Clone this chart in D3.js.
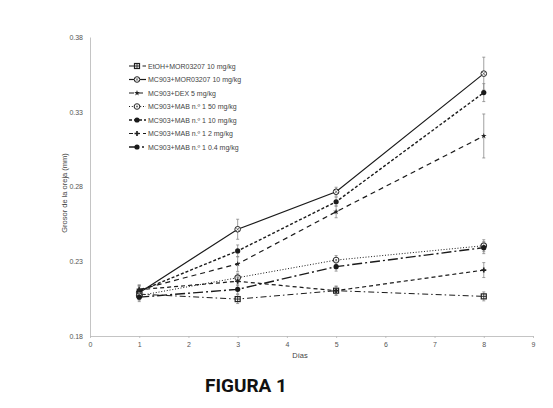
<!DOCTYPE html>
<html>
<head>
<meta charset="utf-8">
<style>
  body { margin: 0; background: #fff; }
  .axis text { font-family: "Liberation Sans", Arial, sans-serif; font-size: 7px; fill: #555; }
  .axis path, .axis line { stroke: #b5b5b5; stroke-width: 0.8px; }
  .legend text { font-family: "Liberation Sans", Arial, sans-serif; font-size: 7px; fill: #444; }
  .err { stroke: #888; stroke-width: 0.8px; }
  .title { font-family: Roboto, "Liberation Sans", sans-serif; font-weight: bold; font-size: 19px; fill: #111; }
</style>
</head>
<body>
<svg id="chart"></svg>
<script src="https://cdnjs.cloudflare.com/ajax/libs/d3/7.8.5/d3.min.js"></script>
<script>
  var days = [1, 3, 5, 8];
  var xTicks = [0, 1, 2, 3, 4, 5, 6, 7, 8, 9];
  var yTicks = [0.18, 0.23, 0.28, 0.33, 0.38];

  var names = [
    'EtOH+MOR03207 10 mg/kg',
    'MC903+MOR03207 10 mg/kg',
    'MC903+DEX 5 mg/kg',
    'MC903+MAB n.º 1 50 mg/kg',
    'MC903+MAB n.º 1 10 mg/kg',
    'MC903+MAB n.º 1 2 mg/kg',
    'MC903+MAB n.º 1 0.4 mg/kg'
  ];
  var etoh  = [0.208, 0.2047, 0.2103, 0.2065];
  var mor   = [0.209, 0.2514, 0.2765, 0.3555];
  var dex   = [0.211, 0.2282, 0.2631, 0.3138];
  var mab50 = [0.207, 0.2190, 0.2308, 0.2404];
  var mab10 = [0.210, 0.2369, 0.2698, 0.3428];
  var mab2  = [0.211, 0.2166, 0.2103, 0.2241];
  var mab04 = [0.206, 0.2112, 0.2264, 0.2391];

  var etohErr  = [0.003, 0.003, 0.003, 0.003];
  var morErr   = [0.004, 0.0067, 0.003, 0.011];
  var dexErr   = [0.003, 0.005, 0.004, 0.0147];
  var mab50Err = [0.003, 0.003, 0.003, 0.004];
  var mab10Err = [0.004, 0.004, 0.003, 0.006];
  var mab2Err  = [0.003, 0.003, 0.003, 0.005];
  var mab04Err = [0.003, 0.003, 0.003, 0.004];

  var values = [etoh, mor, dex, mab50, mab10, mab2, mab04];
  var errors = [etohErr, morErr, dexErr, mab50Err, mab10Err, mab2Err, mab04Err];

  // line styles per series
  var dashes = ['6,3,1.5,3', null, '5,4', '1,1.8', '3,2', '4,3', '10,3,2,3'];
  var widths = [1, 1.2, 1.2, 1, 1.4, 1.2, 1.4];
  var shapes = ['sqx', 'ox', 'star', 'o', 'dot', 'plus', 'dot'];

  var width = 553, height = 408;
  var chart = d3.select('#chart').attr('width', width).attr('height', height);

  var x = d3.scaleLinear().domain([0, 9]).range([90, 533]);
  var y = d3.scaleLinear().domain([0.18, 0.38]).range([336, 37]);

  // axes
  chart.append('g').attr('class', 'x axis')
    .attr('transform', 'translate(0,' + y(0.18) + ')')
    .call(d3.axisBottom(x).tickValues(xTicks).tickSize(2).tickSizeOuter(0).tickPadding(4).tickFormat(d3.format('d')));
  chart.append('g').attr('class', 'y axis')
    .attr('transform', 'translate(' + x(0) + ',0)')
    .call(d3.axisLeft(y).tickValues(yTicks).tickSize(0).tickPadding(7).tickFormat(d3.format('.2f')));

  chart.append('text')
    .attr('transform', 'translate(67,193) rotate(-90)')
    .attr('text-anchor', 'middle')
    .style('font-family', '"Liberation Sans", Arial, sans-serif')
    .style('font-size', '7.5px').style('fill', '#444')
    .text('Grosor de la oreja (mm)');
  chart.append('text')
    .attr('x', 300).attr('y', 358)
    .attr('text-anchor', 'middle')
    .style('font-family', '"Liberation Sans", Arial, sans-serif')
    .style('font-size', '7.5px').style('fill', '#444')
    .text('Días');

  function drawMarker(g, shape, cx, cy) {
    var m = g.append('g').attr('transform', 'translate(' + cx + ',' + cy + ')');
    if (shape === 'sqx') {
      m.append('rect').attr('x', -2.5).attr('y', -2.5).attr('width', 5).attr('height', 5)
        .attr('fill', '#fff').attr('stroke', '#222').attr('stroke-width', 1.2);
      m.append('path').attr('d', 'M-2.5,0H2.5M0,-2.5V2.5').attr('stroke', '#222').attr('stroke-width', 0.9);
    } else if (shape === 'ox') {
      m.append('circle').attr('r', 2.8).attr('fill', '#fff').attr('stroke', '#222').attr('stroke-width', 1);
      m.append('path').attr('d', 'M-1.8,-1.8L1.8,1.8M-1.8,1.8L1.8,-1.8').attr('stroke', '#444').attr('stroke-width', 0.7);
    } else if (shape === 'star') {
      m.append('path').attr('d', d3.symbol().type(d3.symbolStar).size(10)()).attr('fill', '#222');
    } else if (shape === 'o') {
      m.append('circle').attr('r', 2.8).attr('fill', '#fff').attr('stroke', '#333').attr('stroke-width', 1.1);
      m.append('circle').attr('r', 1).attr('fill', '#666');
    } else if (shape === 'dot') {
      m.append('circle').attr('r', 2.6).attr('fill', '#1a1a1a');
    } else if (shape === 'plus') {
      m.append('path').attr('d', d3.symbol().type(d3.symbolCross).size(14)()).attr('fill', '#222');
    }
  }

  var line = d3.line()
    .x(function(d) { return x(d.day); })
    .y(function(d) { return y(d.v); });

  values.forEach(function(vals, i) {
    var pts = days.map(function(dd, j) { return { day: dd, v: vals[j], e: errors[i][j] }; });
    var g = chart.append('g');

    // error bars
    pts.forEach(function(p) {
      g.append('line').attr('class', 'err')
        .attr('x1', x(p.day)).attr('x2', x(p.day))
        .attr('y1', y(p.v - p.e)).attr('y2', y(p.v + p.e));
      [p.v - p.e, p.v + p.e].forEach(function(t) {
        g.append('line').attr('class', 'err')
          .attr('x1', x(p.day) - 1.5).attr('x2', x(p.day) + 1.5)
          .attr('y1', y(t)).attr('y2', y(t));
      });
    });

    g.append('path').datum(pts)
      .attr('d', line)
      .attr('fill', 'none')
      .attr('stroke', '#1a1a1a')
      .attr('stroke-width', widths[i])
      .attr('stroke-dasharray', dashes[i]);

    pts.forEach(function(p) { drawMarker(g, shapes[i], x(p.day), y(p.v)); });
  });

  // legend
  var legend = chart.append('g').attr('class', 'legend');
  names.forEach(function(name, i) {
    var ly = 66 + i * 13.5;
    legend.append('line')
      .attr('x1', 129).attr('x2', 146).attr('y1', ly).attr('y2', ly)
      .attr('stroke', '#1a1a1a').attr('stroke-width', widths[i])
      .attr('stroke-dasharray', dashes[i]);
    drawMarker(legend, shapes[i], 137, ly);
    legend.append('text').attr('x', 148).attr('y', ly + 2.5).text(name);
  });

  chart.append('text').attr('class', 'title')
    .attr('x', 246).attr('y', 392)
    .attr('text-anchor', 'middle')
    .text('FIGURA 1');
</script>
</body>
</html>
